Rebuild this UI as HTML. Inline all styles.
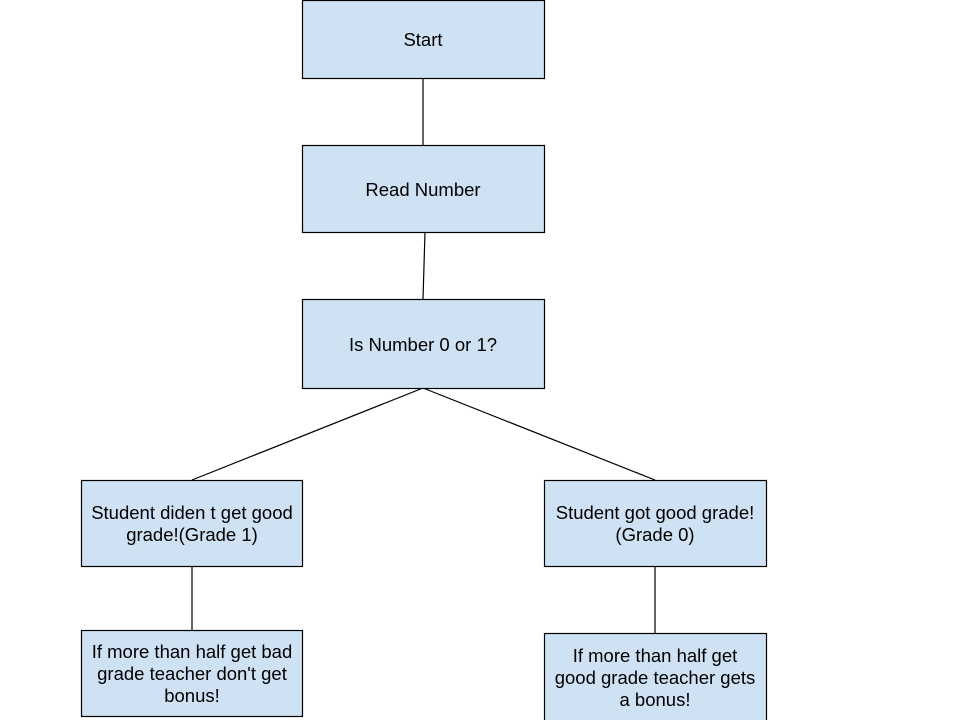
<!DOCTYPE html>
<html><head><meta charset="utf-8"><style>
html,body{margin:0;padding:0;background:#fff;width:960px;height:720px;overflow:hidden}
svg{display:block}
text{font-family:"Liberation Sans",Arial,sans-serif;font-size:18.5px;fill:#000}
</style></head><body>
<svg width="960" height="720" viewBox="0 0 960 720">
<g stroke="#000" stroke-width="1.2" fill="none">
<line x1="423" y1="78" x2="423" y2="145"/>
<line x1="425" y1="232" x2="423" y2="299"/>
<line x1="423" y1="388" x2="192" y2="480"/>
<line x1="423" y1="388" x2="655" y2="480"/>
<line x1="192" y1="566" x2="192" y2="630"/>
<line x1="655" y1="566" x2="655" y2="633"/>
</g>
<g fill="#cfe2f3" stroke="#000" stroke-width="1.2">
<rect x="302.5" y="0.5" width="242" height="78"/>
<rect x="302.5" y="145.5" width="242" height="87"/>
<rect x="302.5" y="299.5" width="242" height="89"/>
<rect x="81.5" y="480.5" width="221" height="86"/>
<rect x="544.5" y="480.5" width="222" height="86"/>
<rect x="81.5" y="630.5" width="221" height="86"/>
<rect x="544.5" y="633.5" width="222" height="88"/>
</g>
<g text-anchor="middle">
<text x="423" y="46">Start</text>
<text x="423" y="196">Read Number</text>
<text x="423" y="351">Is Number 0 or 1?</text>
<text x="192" y="519">Student diden t get good</text>
<text x="192" y="541">grade!(Grade 1)</text>
<text x="655" y="519">Student got good grade!</text>
<text x="655" y="541">(Grade 0)</text>
<text x="192" y="658">If more than half get bad</text>
<text x="192" y="680">grade teacher don't get</text>
<text x="192" y="702">bonus!</text>
<text x="655" y="662">If more than half get</text>
<text x="655" y="684">good grade teacher gets</text>
<text x="655" y="706">a bonus!</text>
</g>
</svg>
</body></html>
